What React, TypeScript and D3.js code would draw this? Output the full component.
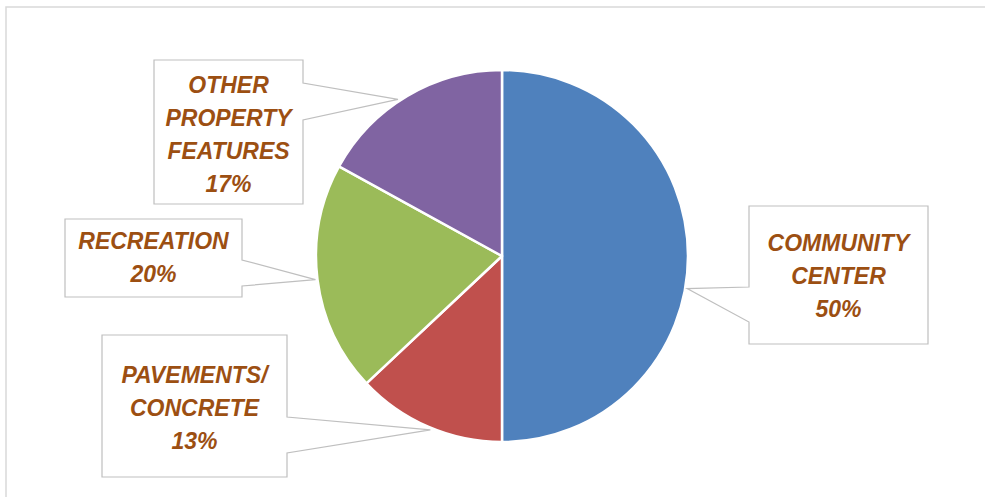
import React from "react";
import * as d3 from "d3";

const categories = ["COMMUNITY CENTER", "PAVEMENTS/ CONCRETE", "RECREATION", "OTHER PROPERTY FEATURES"];
const values = [50, 13, 20, 17];
const labelLines = [["COMMUNITY", "CENTER"], ["PAVEMENTS/", "CONCRETE"], ["RECREATION"], ["OTHER", "PROPERTY", "FEATURES"]];
const colors = ["#4F81BD", "#C0504D", "#9BBB59", "#8064A2"];

// callout layout: box rect, side of pointer, pointer base y's, angle offset (deg), text center y of first line
const layout = [
  { x: 749, y: 206, w: 179, h: 138, side: "left", b1: 287, b2: 322, off: 10, ty: 243 },
  { x: 102, y: 335, w: 185, h: 142, side: "right", b1: 417, b2: 453, off: -1, ty: 375 },
  { x: 65, y: 219, w: 177, h: 78, side: "right", b1: 260, b2: 286, off: 0, ty: 241 },
  { x: 154, y: 60, w: 149, h: 144, side: "right", b1: 83, b2: 120, off: -3, ty: 85 },
];

const W = 985, H = 497;
const cx = 502, cy = 256, R = 186;

export default function App() {
  const pie = d3.pie<number>().sort(null).value((d) => d)(values);
  const arc = d3.arc<d3.PieArcDatum<number>>().innerRadius(0).outerRadius(R);
  const total = d3.sum(values);
  const fontSize = 23;
  const lh = 33;

  return (
    <svg width={W} height={H} style={{ position: "absolute", left: 0, top: 0, background: "#fff" }}
      fontFamily="'Liberation Sans', Arial, sans-serif">
      <rect x={6} y={7} width={1000} height={600} fill="#fff" stroke="#d9d9d9" strokeWidth={1.5} />
      <g transform={`translate(${cx},${cy})`}>
        {pie.map((p, i) => (
          <path key={i} d={arc(p) || ""} fill={colors[i]} stroke="#fff" strokeWidth={2.5} strokeLinejoin="round" />
        ))}
      </g>
      {pie.map((p, i) => {
        const L = layout[i];
        const mid = (p.startAngle + p.endAngle) / 2 + (L.off * Math.PI) / 180;
        const tx = cx + Math.sin(mid) * (R + 2);
        const ty = cy - Math.cos(mid) * (R + 2);
        const x0 = L.x, x1 = L.x + L.w, y0 = L.y, y1 = L.y + L.h;
        let pts: [number, number][];
        if (L.side === "right") {
          pts = [[x0, y0], [x1, y0], [x1, L.b1], [tx, ty], [x1, L.b2], [x1, y1], [x0, y1]];
        } else {
          pts = [[x0, y0], [x1, y0], [x1, y1], [x0, y1], [x0, L.b2], [tx, ty], [x0, L.b1]];
        }
        const lines = [...labelLines[i], `${Math.round((values[i] / total) * 100)}%`];
        const tcx = L.x + L.w / 2;
        return (
          <g key={i}>
            <path d={"M" + pts.map((q) => q.join(",")).join("L") + "Z"} fill="#fff" stroke="#bfbfbf" strokeWidth={1.2} />
            {lines.map((t, j) => (
              <text key={j} x={tcx} y={L.ty + j * lh} textAnchor="middle" dominantBaseline="central"
                fontSize={fontSize} fontWeight="bold" fontStyle="italic" fill="#9C4F12">
                {t}
              </text>
            ))}
          </g>
        );
      })}
    </svg>
  );
}
